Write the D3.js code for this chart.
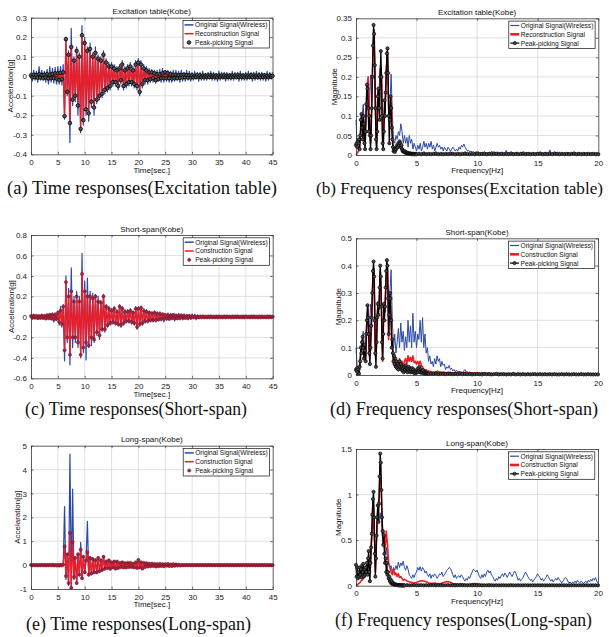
<!DOCTYPE html>
<html><head><meta charset="utf-8">
<script src="https://cdn.jsdelivr.net/npm/d3@7"></script>
<style>body{margin:0;background:#fff}svg{display:block}</style>
</head><body><svg id="c" width="609" height="637"></svg>
<script>
// ---------------- DATA ----------------
const timeXTicks = [0,5,10,15,20,25,30,35,40,45];
const freqXTicks = [0,5,10,15,20];
const aYTicks = [-0.4,-0.3,-0.2,-0.1,0,0.1,0.2,0.3];
const bYTicks = [0,0.05,0.1,0.15,0.2,0.25,0.3,0.35];
const cYTicks = [-0.6,-0.4,-0.2,0,0.2,0.4,0.6,0.8];
const dYTicks = [0,0.1,0.2,0.3,0.4,0.5];
const eYTicks = [-1,0,1,2,3,4,5];
const fYTicks = [0,0.5,1,1.5];

const panelTitles = ["Excitation table(Kobe)","Excitation table(Kobe)","Short-span(Kobe)","Short-span(Kobe)","Long-span(Kobe)","Long-span(Kobe)"];
const captions = ["(a) Time responses(Excitation table)","(b) Frequency responses(Excitation table)","(c) Time responses(Short-span)","(d) Frequency responses(Short-span)","(e) Time responses(Long-span)","(f) Frequency responses(Long-span)"];
const yLabels = ["Acceleration[g]","Magnitude","Acceleration[g]","Magnitude","Accelaration[g]","Magnitude"];
const xLabels = ["Time[sec.]","Frequency[Hz]"];
const legendTop = ["Original Signal(Wireless)","Reconstruction Signal","Peak-picking Signal"];
const legendLower = ["Original Signal(Wireless)","Construction Signal","Peak-picking Signal"];

// time signals, sampled every 0.25 s from 0 to 45 s
const timeStep = 0.25;
const aBlue = [0.02,-0.025,0.03,-0.02,0.025,-0.03,0.05,-0.02,0.03,-0.02,0.025,-0.03,0.035,-0.04,0.05,-0.03,0.04,-0.035,0.045,-0.04,0.05,-0.04,0.05,-0.045,
0.06,-0.22,0.2,-0.1,0.13,-0.34,0.245,-0.15,0.1,-0.13,0.15,-0.2,0.12,-0.29,0.26,-0.25,0.2,-0.2,0.15,-0.23,0.17,-0.16,0.12,-0.2,0.15,-0.14,0.11,-0.12,0.1,-0.11,0.13,-0.09,0.09,-0.08,0.07,-0.07,0.07,-0.05,0.06,-0.05,0.05,-0.07,0.06,-0.04,0.08,-0.07,0.05,-0.06,0.06,-0.05,0.07,-0.05,0.05,-0.06,0.08,-0.07,0.09,-0.1,0.08,-0.06,0.06,-0.04,0.05,-0.04,
0.04,-0.03,0.035,-0.03,0.03,-0.035,0.03,-0.025,0.035,-0.03,0.04,-0.03,0.03,-0.025,0.03,-0.03,0.025,-0.03,0.03,-0.025,0.03,-0.02,0.025,-0.03,0.03,-0.025,0.02,-0.025,0.03,-0.02,0.025,-0.025,
0.02,-0.02,0.025,-0.015,0.02,-0.025,0.02,-0.02,0.025,-0.02,0.015,-0.02,0.02,-0.015,0.025,-0.02,0.02,-0.02,0.015,-0.025,0.025,-0.02,0.02,-0.015,0.02,-0.025,0.02,-0.02,0.015,-0.02,0.025,-0.02,0.02,-0.015,0.02,-0.025,0.025,-0.02,0.015,-0.02,0.02,-0.02,0.025,-0.015,0.02,-0.025,0.02,-0.02,0.025,-0.015,0.02,-0.02,0.02,-0.02,0.015,-0.025,0.025,-0.02,0.02,-0.015,0.02];
const aPeak = [0.004,-0.006,0.008,-0.005,0.006,-0.008,0.01,-0.006,0.007,-0.01,0.008,-0.006,0.01,-0.012,0.008,-0.01,0.012,-0.01,0.015,-0.012,0.015,-0.02,0.018,-0.015,
0.02,-0.205,0.19,-0.08,0.11,-0.24,0.15,-0.12,0.08,-0.1,0.13,-0.15,0.1,-0.27,0.21,-0.225,0.17,-0.17,0.13,-0.19,0.14,-0.13,0.1,-0.16,0.12,-0.12,0.09,-0.1,0.08,-0.09,0.11,-0.07,0.07,-0.06,0.05,-0.05,0.05,-0.03,0.04,-0.03,0.03,-0.05,0.04,-0.02,0.06,-0.05,0.03,-0.04,0.04,-0.03,0.05,-0.03,0.03,-0.04,0.06,-0.05,0.07,-0.08,0.06,-0.04,0.04,-0.02,0.03,-0.02,
0.02,-0.015,0.02,-0.01,0.015,-0.02,0.01,-0.015,0.01,-0.01,0.015,-0.01,0.02,-0.01,0.015,-0.01,0.01,-0.012,0.008,-0.01,0.008,-0.01,0.006,-0.008,0.007,-0.006,0.008,-0.005,0.006,-0.007,0.005,-0.006,
0.004,-0.005,0.003,-0.004,0.005,-0.003,0.004,-0.004,0.003,-0.005,0.004,-0.003,0.004,-0.004,0.005,-0.003,0.003,-0.004,0.004,-0.005,0.004,-0.003,0.003,-0.004,0.005,-0.004,0.003,-0.003,0.004,-0.005,0.004,-0.003,0.003,-0.004,0.005,-0.004,0.004,-0.003,0.003,-0.005,0.004,-0.004,0.003,-0.003,0.005,-0.004,0.004,-0.003,0.003,-0.005,0.004,-0.004,0.004,-0.003,0.005,-0.004,0.003,-0.004,0.004,-0.003,0.002];

const cBlue = [0.015,-0.02,0.025,-0.015,0.02,-0.025,0.015,-0.02,0.025,-0.02,0.02,-0.03,0.03,-0.025,0.035,-0.03,0.04,-0.05,0.04,-0.035,
0.06,-0.08,0.1,-0.1,0.12,-0.43,0.4,-0.25,0.28,-0.47,0.48,-0.3,0.2,-0.25,0.25,-0.3,0.2,-0.4,0.62,-0.35,0.35,-0.42,0.38,-0.3,0.25,-0.28,0.23,-0.25,0.22,-0.18,0.2,-0.22,0.16,-0.14,0.22,-0.15,0.12,-0.1,0.1,-0.08,0.08,-0.07,0.1,-0.08,0.07,-0.09,0.12,-0.1,0.1,-0.08,0.07,-0.06,0.07,-0.06,0.08,-0.07,0.06,-0.08,0.1,-0.12,0.1,-0.09,0.1,-0.08,0.08,-0.06,0.07,-0.06,
0.06,-0.05,0.05,-0.05,0.06,-0.05,0.05,-0.04,0.05,-0.04,0.04,-0.05,
0.03,-0.035,0.04,-0.03,0.035,-0.03,0.03,-0.04,0.03,-0.025,0.035,-0.03,0.025,-0.03,0.03,-0.02,0.025,-0.03,0.02,-0.025,0.03,-0.02,0.025,-0.03,0.02,-0.015,0.01,-0.005,
0.002,-0.003,0.003,-0.002,0.003,-0.002,0.002,-0.003,0.002,-0.002,0.003,-0.002,0.003,-0.003,0.002,-0.002,0.002,-0.003,0.003,-0.002,0.003,-0.002,0.002,-0.003,0.002,-0.002,0.003,-0.002,0.003,-0.003,0.002,-0.002,0.002,-0.003,0.003,-0.002,0.003,-0.002,0.002,-0.003,0.002,-0.002,0.003,-0.002,0.003,-0.003,0.002,-0.002,0.002,-0.003,0.003,-0.002,0.002];
const cPeak = [0.008,-0.01,0.012,-0.008,0.01,-0.012,0.008,-0.01,0.012,-0.01,0.01,-0.015,0.015,-0.012,0.02,-0.015,0.02,-0.025,0.02,-0.02,
0.04,-0.05,0.06,-0.07,0.1,-0.326,0.34,-0.2,0.2,-0.37,0.25,-0.2,0.15,-0.2,0.2,-0.25,0.15,-0.37,0.42,-0.3,0.25,-0.25,0.2,-0.28,0.2,-0.2,0.18,-0.22,0.2,-0.15,0.15,-0.18,0.14,-0.12,0.2,-0.12,0.1,-0.08,0.08,-0.06,0.06,-0.05,0.08,-0.06,0.05,-0.07,0.1,-0.08,0.08,-0.06,0.05,-0.04,0.05,-0.04,0.06,-0.05,0.04,-0.06,0.08,-0.1,0.08,-0.07,0.09,-0.06,0.06,-0.04,0.05,-0.04,
0.04,-0.03,0.035,-0.03,0.04,-0.03,0.03,-0.025,0.03,-0.02,0.025,-0.02,
0.02,-0.015,0.015,-0.02,0.015,-0.01,0.02,-0.015,0.01,-0.015,0.012,-0.01,0.015,-0.01,0.01,-0.012,0.008,-0.01,0.01,-0.008,
0.005,-0.004,0.006,-0.005,0.004,-0.006,0.005,-0.004,0.006,-0.005,0.004,-0.005,0.005,-0.004,0.006,-0.005,0.004,-0.005,0.005,-0.006,0.005,-0.004,0.004,-0.005,0.006,-0.005,0.005,-0.004,0.004,-0.006,0.005,-0.005,0.005,-0.004,0.006,-0.004,0.004,-0.005,0.005,-0.006,0.006,-0.004,0.004,-0.005,0.005,-0.005,0.006,-0.004,0.004,-0.006,0.005,-0.005,0.005,-0.004,0.004,-0.005,0.006,-0.005,0.005,-0.004,0.003];

const eBlue = [0.02,-0.02,0.025,-0.015,0.02,-0.025,0.02,-0.02,0.025,-0.02,0.015,-0.025,0.02,-0.02,0.025,-0.015,0.03,-0.02,0.02,-0.03,0.025,-0.03,0.03,-0.025,
0.05,2.45,-0.6,0.5,-0.85,4.65,-0.95,3.18,-0.6,0.35,-0.8,0.5,-0.45,0.95,-0.6,0.4,-0.35,0.25,1.83,-0.45,0.35,-0.4,0.3,-0.35,0.25,-0.35,0.35,-0.3,0.25,-0.25,0.4,-0.2,0.2,-0.15,0.25,-0.2,0.15,-0.12,0.2,-0.18,0.18,-0.15,0.12,-0.1,0.15,-0.12,0.1,-0.12,0.12,-0.1,0.12,-0.1,0.08,-0.12,0.15,-0.14,0.25,-0.12,0.15,-0.18,0.12,-0.1,0.1,-0.08,
0.07,-0.06,0.07,-0.05,0.06,-0.07,0.05,-0.06,0.06,-0.05,0.05,-0.06,0.05,-0.04,0.06,-0.05,0.04,-0.05,0.05,-0.04,0.04,-0.03,0.03,-0.03,
0.015,-0.015,0.02,-0.01,0.015,-0.02,0.015,-0.015,0.02,-0.015,0.01,-0.015,0.015,-0.01,0.02,-0.015,0.015,-0.015,0.01,-0.02,0.02,-0.015,0.015,-0.01,0.015,-0.02,0.015,-0.015,0.01,-0.015,0.02,-0.015,0.015,-0.01,0.015,-0.02,0.02,-0.015,0.01,-0.015,0.015,-0.015,0.02,-0.01,0.015,-0.02,0.015,-0.015,0.02,-0.01,0.015,-0.015,0.015,-0.015,0.01,-0.02,0.02,-0.015,0.015,-0.01,0.015,-0.015,0.02,-0.015,0.01,-0.015,0.015,-0.01,0.01];
const ePeak = [0.01,-0.01,0.015,-0.01,0.01,-0.015,0.01,-0.01,0.015,-0.01,0.01,-0.015,0.01,-0.01,0.015,-0.01,0.02,-0.015,0.01,-0.02,0.015,-0.02,0.02,-0.015,
0.02,0.79,-0.46,0.45,-0.75,1.35,-0.95,0.97,-0.5,0.3,-0.75,0.45,-0.4,0.65,-0.55,0.35,-0.3,0.2,0.55,-0.4,0.3,-0.35,0.25,-0.3,0.2,-0.3,0.3,-0.25,0.2,-0.2,0.35,-0.15,0.15,-0.12,0.2,-0.15,0.12,-0.1,0.15,-0.15,0.15,-0.12,0.1,-0.08,0.12,-0.1,0.08,-0.1,0.1,-0.08,0.1,-0.08,0.06,-0.1,0.12,-0.12,0.22,-0.1,0.12,-0.15,0.1,-0.08,0.08,-0.06,
0.06,-0.05,0.06,-0.04,0.05,-0.06,0.04,-0.05,0.05,-0.04,0.04,-0.05,0.04,-0.03,0.05,-0.04,0.03,-0.04,0.04,-0.03,0.03,-0.02,0.02,-0.02,
0.01,-0.012,0.008,-0.01,0.012,-0.008,0.01,-0.01,0.008,-0.012,0.01,-0.008,0.01,-0.01,0.012,-0.008,0.008,-0.01,0.01,-0.012,0.01,-0.008,0.008,-0.01,0.012,-0.01,0.008,-0.008,0.01,-0.012,0.01,-0.008,0.008,-0.01,0.012,-0.01,0.01,-0.008,0.008,-0.012,0.01,-0.01,0.008,-0.008,0.012,-0.01,0.01,-0.008,0.008,-0.012,0.01,-0.01,0.01,-0.008,0.012,-0.01,0.008,-0.01,0.01,-0.008,0.008,-0.01,0.012,-0.008,0.01,-0.012,0.008,-0.01,0.005];

// frequency spectra
// original: every 0.1 Hz from 0 to 20 Hz
const bBlue = [0.09,0.02,0.04,0.03,0.08,0.1,0.13,0.06,0.1,0.16,0.19,0.12,0.205,0.14,0.25,0.31,0.15,0.05,0.17,0.14,0.23,0.22,0.08,0.1,0.15,0.2,0.25,0.12,0.13,0.207,0.1,0.04,0.03,0.05,0.04,0.06,0.05,0.08,0.06,0.03,0.05,0.03,0.045,0.02,0.05,0.03,0.04,0.015,0.03,0.02,
0.01,0.025,0.015,0.03,0.01,0.02,0.035,0.02,0.03,0.015,0.03,0.02,0.035,0.015,0.025,0.01,0.02,0.03,0.02,0.025,0.015,0.02,0.01,0.02,0.015,0.01,0.02,0.015,0.01,0.015,0.02,0.015,0.01,0.015,0.01,0.02,0.015,0.025,0.02,0.028,0.02,0.015,0.01,0.012,0.008,0.01,0.007,0.009,0.006,0.008,
0.006,0.008,0.005,0.007,0.004,0.006,0.009,0.005,0.006,0.004,0.007,0.005,0.01,0.006,0.004,0.006,0.005,0.008,0.004,0.006,0.005,0.007,0.004,0.006,0.012,0.005,0.006,0.004,0.007,0.005,0.006,0.004,0.005,0.008,0.005,0.004,0.006,0.005,0.007,0.004,0.005,0.006,0.004,0.007,0.005,0.004,0.006,0.005,0.004,0.006,0.005,0.007,0.004,0.005,0.006,0.004,0.005,0.007,0.005,0.004,0.013,0.005,0.004,0.006,0.005,0.004,0.006,0.005,0.007,0.004,0.005,0.004,0.006,0.005,0.004,0.007,0.005,0.004,0.006,0.004,0.005,0.006,0.004,0.005,0.007,0.004,0.005,0.004,0.006,0.005,0.004,0.006,0.005,0.004,0.005,0.006,0.004,0.005,0.004,0.006,0.005];
// peak-picking: every 0.05 Hz over the low band, then every 0.2 Hz
const bPeakLow = [0.025,0.03,0.02,0.035,0.03,0.04,0.015,0.05,0.09,0.105,0.07,0.04,0.1,0.08,0.03,0.015,0.06,0.13,0.18,0.17,0.12,0.06,0.1,0.05,0.015,0.05,0.12,0.2,0.28,0.333,0.31,0.23,0.12,0.04,0.015,0.06,0.15,0.17,0.12,0.09,0.2,0.266,0.2,0.1,0.03,0.015,0.06,0.14,0.1,0.16,0.21,0.26,0.273,0.21,0.1,0.03,0.09,0.15,0.12,0.07,0.04,0.02,0.01,0.015,0.008,0.012,0.015,0.02,0.025,0.02,0.03,0.025,0.035,0.03,0.02,0.025,0.015,0.01,0.012,0.008,0.01,0.006,0.008,0.005,0.006,0.004,0.005,0.003,0.004,0.003,0.004,0.003,0.002,0.003,0.002,0.003,0.002,0.002,0.003,0.002,0.002];
const bPeakTailStart = 5.2;
const bPeakTail = [0.003,0.002,0.004,0.002,0.003,0.002,0.003,0.004,0.002,0.003,0.002,0.003,0.002,0.004,0.003,0.002,0.003,0.002,0.003,0.004,0.003,0.002,0.003,0.002,0.004,0.002,0.003,0.003,0.002,0.003,0.002,0.004,0.003,0.002,0.003,0.002,0.003,0.002,0.004,0.002,0.003,0.002,0.003,0.004,0.002,0.003,0.002,0.003,0.002,0.003,0.004,0.002,0.003,0.002,0.003,0.002,0.004,0.003,0.002,0.003,0.002,0.003,0.002,0.003,0.004,0.002,0.003,0.002,0.003,0.002,0.003,0.002,0.003,0.002,0.002];
// reconstruction: every 0.1 Hz over the low band, then every 0.25 Hz
const bRedLow = [0,0.005,0.01,0.02,0.06,0.08,0.09,0.03,0.08,0.17,0.2,0.1,0.03,0.13,0.27,0.32,0.12,0.02,0.16,0.13,0.22,0.21,0.03,0.07,0.12,0.22,0.26,0.11,0.1,0.15,0.05,0.02,0.01,0.015,0.02,0.025,0.03,0.025,0.015,0.012,0.01,0.008,0.006,0.007,0.005,0.006,0.004,0.005,0.004,0.004,0.003];
const bRedTailStart = 5.25;
const bRedTail = [0.003,0.004,0.003,0.002,0.003,0.004,0.003,0.002,0.003,0.002,0.003,0.002,0.003,0.004,0.002,0.003,0.002,0.003,0.002,0.003,0.002,0.003,0.002,0.002,0.003,0.002,0.003,0.002,0.002,0.003,0.002,0.002,0.003,0.002,0.002,0.003,0.002,0.002,0.002,0.003,0.002,0.002,0.003,0.002,0.002,0.002,0.003,0.002,0.002,0.002,0.003,0.002,0.002,0.002,0.003,0.002,0.002,0.002,0.002,0.002];

const dBlue = [0.1,0.03,0.02,0.04,0.1,0.13,0.16,0.1,0.12,0.22,0.26,0.12,0.26,0.22,0.37,0.39,0.12,0.15,0.27,0.26,0.37,0.27,0.1,0.26,0.25,0.37,0.4,0.18,0.3,0.385,0.2,0.1,0.15,0.08,0.12,0.17,0.1,0.19,0.12,0.16,0.09,0.14,0.1,0.2,0.12,0.18,0.1,0.226,0.12,0.16,
0.1,0.15,0.13,0.2,0.12,0.21,0.1,0.15,0.08,0.1,0.05,0.07,0.04,0.05,0.03,0.06,0.04,0.07,0.05,0.06,0.03,0.05,0.035,0.04,0.02,0.03,0.025,0.035,0.02,0.025,0.015,0.02,0.012,0.018,0.01,0.015,0.01,0.012,0.008,0.015,0.02,0.01,0.012,0.008,0.01,0.006,0.008,0.005,0.007,0.005,
0.006,0.004,0.008,0.005,0.01,0.006,0.004,0.007,0.005,0.003,0.005,0.004,0.006,0.003,0.005,0.004,0.003,0.005,0.004,0.003,0.004,0.003,0.005,0.003,0.004,0.002,0.004,0.003,0.005,0.003,0.004,0.003,0.002,0.004,0.003,0.002,0.003,0.004,0.002,0.003,0.002,0.003,0.004,0.002,0.003,0.002,0.003,0.002,0.004,0.002,0.003,0.002,0.003,0.002,0.003,0.004,0.002,0.003,0.002,0.003,0.002,0.003,0.002,0.004,0.002,0.003,0.002,0.003,0.002,0.003,0.002,0.003,0.002,0.003,0.002,0.002,0.003,0.002,0.003,0.002,0.002,0.003,0.002,0.002,0.003,0.002,0.003,0.002,0.002,0.003,0.002,0.002,0.003,0.002,0.002,0.003,0.002,0.002,0.003,0.002,0.002];
const dPeakLow = [0.02,0.015,0.025,0.01,0.02,0.005,0.03,0.05,0.1,0.08,0.12,0.14,0.1,0.06,0.11,0.09,0.05,0.15,0.2,0.255,0.21,0.15,0.08,0.04,0.1,0.18,0.21,0.3,0.38,0.415,0.36,0.2,0.08,0.03,0.12,0.21,0.26,0.22,0.25,0.32,0.4,0.36,0.25,0.12,0.06,0.15,0.26,0.2,0.25,0.32,0.38,0.42,0.4,0.28,0.15,0.22,0.3,0.28,0.2,0.1,0.13,0.08,0.05,0.07,0.04,0.06,0.03,0.05,0.025,0.04,0.02,0.035,0.05,0.03,0.04,0.02,0.03,0.015,0.025,0.01,0.03,0.02,0.035,0.015,0.025,0.01,0.02,0.03,0.015,0.025,0.01,0.02,0.012,0.025,0.01,0.02,0.008,0.015,0.006,0.012,0.01,0.02,0.01,0.025,0.015,0.03,0.01,0.02,0.008,0.015,0.01,0.018,0.006,0.012,0.005,0.01,0.004,0.008,0.004,0.005,0.004];
const dPeakTailStart = 6.2;
const dPeakTail = [0.005,0.004,0.006,0.003,0.005,0.004,0.003,0.005,0.004,0.003,0.004,0.003,0.005,0.003,0.004,0.003,0.004,0.002,0.003,0.004,0.003,0.002,0.004,0.003,0.003,0.002,0.003,0.004,0.002,0.003,0.003,0.002,0.003,0.002,0.004,0.002,0.003,0.002,0.003,0.002,0.003,0.002,0.003,0.003,0.002,0.003,0.002,0.003,0.002,0.003,0.002,0.003,0.002,0.002,0.003,0.002,0.003,0.002,0.002,0.003,0.002,0.002,0.003,0.002,0.002,0.003,0.002,0.002,0.002,0.002];
const dRedLow = [0,0.005,0.01,0.02,0.08,0.11,0.1,0.09,0.06,0.2,0.24,0.07,0.09,0.2,0.37,0.38,0.07,0.11,0.25,0.24,0.38,0.24,0.05,0.24,0.23,0.36,0.39,0.13,0.28,0.2,0.12,0.04,0.03,0.05,0.03,0.04,0.06,0.04,0.05,0.03,0.05,0.06,0.04,0.07,0.05,0.065,0.05,0.07,0.045,0.05,0.04,0.05,0.04,0.05,0.035,0.03,0.02,0.015,0.02,0.01,0.015];
const dRedTailStart = 6.25;
const dRedTail = [0.012,0.01,0.014,0.009,0.011,0.008,0.01,0.007,0.009,0.008,0.007,0.009,0.006,0.008,0.006,0.007,0.005,0.006,0.005,0.007,0.005,0.004,0.006,0.004,0.005,0.004,0.005,0.003,0.004,0.005,0.004,0.003,0.004,0.003,0.004,0.003,0.003,0.004,0.003,0.003,0.003,0.002,0.003,0.003,0.002,0.003,0.002,0.003,0.002,0.002,0.003,0.002,0.002,0.003,0.002,0.002];

const fBlue = [0.2,0.1,0.15,0.12,0.18,0.1,0.2,0.12,0.22,0.15,0.3,0.25,0.35,0.5,0.75,0.55,0.3,0.5,0.78,0.7,0.8,0.72,0.5,0.45,0.35,0.42,0.3,0.25,0.2,0.22,0.15,0.2,0.17,0.22,0.18,0.26,0.2,0.25,0.22,0.27,0.2,0.17,0.22,0.18,0.12,0.1,0.08,0.12,0.09,0.13,
0.15,0.2,0.17,0.21,0.16,0.2,0.18,0.14,0.16,0.12,0.1,0.13,0.08,0.12,0.1,0.13,0.11,0.08,0.1,0.13,0.12,0.15,0.1,0.12,0.14,0.17,0.18,0.2,0.19,0.16,0.12,0.09,0.12,0.08,0.1,0.11,0.09,0.12,0.1,0.07,0.05,0.08,0.06,0.1,0.08,0.12,0.15,0.18,0.17,0.15,
0.17,0.14,0.1,0.08,0.12,0.09,0.13,0.1,0.15,0.17,0.14,0.16,0.12,0.1,0.07,0.05,0.08,0.06,0.1,0.08,0.11,0.13,0.1,0.14,0.12,0.09,0.12,0.15,0.12,0.1,0.13,0.16,0.14,0.1,0.06,0.08,0.05,0.07,0.09,0.12,0.15,0.13,0.1,0.08,0.06,0.07,0.04,0.06,0.08,0.1,
0.13,0.11,0.09,0.06,0.08,0.05,0.07,0.09,0.12,0.1,0.07,0.05,0.07,0.04,0.06,0.08,0.06,0.09,0.07,0.05,0.03,0.05,0.07,0.09,0.08,0.05,0.03,0.04,0.02,0.04,0.03,0.05,0.03,0.06,0.04,0.03,0.05,0.04,0.02,0.04,0.05,0.03,0.06,0.04,0.07,0.05,0.08,0.06,0.09,0.05,0.03];
const fPeakLow = [0.23,0.1,0.2,0.08,0.15,0.1,0.2,0.12,0.18,0.09,0.22,0.15,0.24,0.1,0.18,0.12,0.2,0.15,0.25,0.12,0.3,0.38,0.15,0.05,0.25,0.42,0.57,0.78,0.95,1.03,0.75,0.35,0.1,0.3,0.55,0.75,0.88,0.7,0.9,1.2,1.45,1.35,1.05,0.75,0.6,0.45,0.55,0.35,0.25,0.3,0.15,0.25,0.12,0.15,0.08,0.1,0.05,0.07,0.03,0.05,0.02,0.03,0.015,0.02,0.01,0.015,0.008,0.01,0.006,0.008,0.005,0.006,0.004,0.005,0.004,0.004,0.003,0.004,0.003,0.003,0.003];
const fPeakTailStart = 4.2;
const fPeakTail = [0.006,0.004,0.005,0.007,0.004,0.005,0.006,0.004,0.005,0.004,0.006,0.005,0.004,0.006,0.005,0.004,0.005,0.006,0.004,0.005,0.004,0.005,0.006,0.004,0.005,0.004,0.005,0.004,0.006,0.004,0.005,0.004,0.005,0.004,0.004,0.005,0.004,0.005,0.004,0.004,0.005,0.004,0.004,0.005,0.004,0.004,0.005,0.004,0.004,0.005,0.004,0.004,0.005,0.004,0.004,0.004,0.005,0.004,0.004,0.004,0.005,0.004,0.004,0.004,0.005,0.004,0.004,0.004,0.004,0.005,0.004,0.004,0.004,0.004,0.005,0.004,0.004,0.004,0.004,0.004];
const fRedLow = [0,0.01,0.02,0.03,0.05,0.06,0.08,0.1,0.12,0.2,0.3,0.25,0.2,0.55,0.95,0.7,0.15,0.5,0.85,0.95,1.35,1.0,0.55,0.6,0.4,0.6,0.45,0.25,0.2,0.15,0.12,0.18,0.12,0.14,0.1,0.13,0.09,0.1,0.08,0.06,0.07];
const fRedTailStart = 4.25;
const fRedTail = [0.05,0.04,0.03,0.035,0.05,0.055,0.045,0.03,0.025,0.03,0.02,0.025,0.035,0.045,0.04,0.025,0.02,0.015,0.02,0.015,0.012,0.018,0.025,0.02,0.015,0.012,0.01,0.015,0.012,0.01,0.008,0.012,0.01,0.008,0.012,0.01,0.008,0.01,0.007,0.009,0.008,0.006,0.009,0.007,0.006,0.008,0.006,0.007,0.006,0.005,0.007,0.005,0.006,0.005,0.006,0.004,0.005,0.004,0.006,0.004,0.005,0.004,0.005,0.004];

// ---------------- DRAWING ----------------
const SANS = '"Liberation Sans", Arial, Helvetica, sans-serif';
const SERIF = '"Liberation Serif", "Times New Roman", serif';
const BLUE = '#2b4aa8', RED = '#ee1c25', DARKRED = '#a3223d';
const svg = d3.select('#c');

const seq = (vals, start, step) => vals.map((v, i) => [start + i * step, v]);

function panel(p) {
  const [L, R, T, B] = p.box;
  const x = d3.scaleLinear().domain(p.xDomain).range([L, R]);
  const y = d3.scaleLinear().domain(p.yDomain).range([B, T]);
  const g = svg.append('g');
  // grid
  g.append('g').selectAll('line').data(p.xTicks.slice(1, -1)).join('line')
    .attr('x1', d => x(d)).attr('x2', d => x(d)).attr('y1', T).attr('y2', B)
    .attr('stroke', '#d2d2d2').attr('stroke-width', 0.7);
  g.append('g').selectAll('line').data(p.yTicks.slice(1, -1)).join('line')
    .attr('y1', d => y(d)).attr('y2', d => y(d)).attr('x1', L).attr('x2', R)
    .attr('stroke', '#d2d2d2').attr('stroke-width', 0.7);

  const line = d3.line().x(d => x(d[0])).y(d => y(d[1]));
  p.series.forEach(s => {
    g.append('path').datum(s.data).attr('d', line).attr('fill', 'none')
      .attr('stroke', s.color).attr('stroke-width', s.width).attr('stroke-linejoin', 'round');
  });
  if (p.markers) {
    g.append('g').selectAll('circle').data(p.markers.data).join('circle')
      .attr('cx', d => x(d[0])).attr('cy', d => y(d[1])).attr('r', p.markers.r)
      .attr('fill', p.markers.fill).attr('stroke', p.markers.stroke).attr('stroke-width', p.markers.sw);
  }

  // axes (inward ticks on all sides)
  const fmt = d => String(d);
  const styleAxis = (a) => {
    a.attr('font-size', 8).attr('font-family', SANS).attr('color', '#333');
    a.selectAll('text').attr('fill', '#222');
    a.select('.domain').attr('stroke-width', 0.8);
    a.selectAll('.tick line').attr('stroke-width', 0.7);
  };
  g.append('g').attr('transform', `translate(0,${B})`)
    .call(d3.axisBottom(x).tickValues(p.xTicks).tickSize(-2.5).tickSizeOuter(0).tickPadding(5).tickFormat(fmt)).call(styleAxis);
  g.append('g').attr('transform', `translate(0,${T})`)
    .call(d3.axisTop(x).tickValues(p.xTicks).tickSize(-2.5).tickSizeOuter(0).tickFormat('')).call(styleAxis);
  g.append('g').attr('transform', `translate(${L},0)`)
    .call(d3.axisLeft(y).tickValues(p.yTicks).tickSize(-2.5).tickSizeOuter(0).tickPadding(4).tickFormat(fmt)).call(styleAxis);
  g.append('g').attr('transform', `translate(${R},0)`)
    .call(d3.axisRight(y).tickValues(p.yTicks).tickSize(-2.5).tickSizeOuter(0).tickFormat('')).call(styleAxis);

  // title, labels
  g.append('text').attr('x', (L + R) / 2).attr('y', T - 3.5).attr('text-anchor', 'middle')
    .attr('font-family', SANS).attr('font-size', 8).attr('fill', '#111').text(p.title);
  g.append('text').attr('x', (L + R) / 2).attr('y', B + 18.3).attr('text-anchor', 'middle')
    .attr('font-family', SANS).attr('font-size', 8).attr('fill', '#111').text(p.xLabel);
  g.append('text').attr('transform', `translate(${p.ylabX},${(T + B) / 2}) rotate(-90)`).attr('text-anchor', 'middle')
    .attr('font-family', SANS).attr('font-size', 8).attr('fill', '#111').text(p.yLabel);

  // legend
  const lx = R - 89.5, ly = T + 2.8, lw = 86.3, lh = 27.5;
  const lg = g.append('g');
  lg.append('rect').attr('x', lx).attr('y', ly).attr('width', lw).attr('height', lh)
    .attr('fill', '#fff').attr('stroke', '#111').attr('stroke-width', 0.7);
  p.legend.forEach((e, i) => {
    const cy = ly + 4.4 + i * 8.8;
    if (e.line) lg.append('line').attr('x1', lx + 1.5).attr('x2', lx + 10.5).attr('y1', cy).attr('y2', cy)
      .attr('stroke', e.line).attr('stroke-width', e.lw);
    if (e.marker) lg.append('circle').attr('cx', lx + 6).attr('cy', cy).attr('r', e.marker.r)
      .attr('fill', e.marker.fill).attr('stroke', e.marker.stroke).attr('stroke-width', e.marker.sw);
    lg.append('text').attr('x', lx + 12).attr('y', cy + 2.4).attr('font-family', SANS)
      .attr('font-size', 6.6).attr('fill', '#111').text(e.label);
  });

  // caption
  svg.append('text').attr('x', p.cap.x).attr('y', p.cap.y).attr('font-family', SERIF)
    .attr('font-size', p.cap.fs || 18).attr('fill', '#111').attr('textLength', p.cap.w)
    .attr('lengthAdjust', 'spacingAndGlyphs').text(p.caption);
}

const timeLegend = (labels, mk) => [
  { label: labels[0], line: BLUE, lw: 1.5 },
  { label: labels[1], line: RED, lw: 1.5 },
  { label: labels[2], marker: mk }
];
const freqLegend = (labels, mk) => [
  { label: labels[0], line: BLUE, lw: 1.2 },
  { label: labels[1], line: RED, lw: 2.6 },
  { label: labels[2], line: '#000', lw: 1.2, marker: mk }
];

const mkA = { r: 1.8, fill: '#555', stroke: '#000', sw: 0.8 };
const mkC = { r: 1.6, fill: DARKRED, stroke: '#7d1528', sw: 0.5 };
const mkF = { r: 1.6, fill: '#4a4a4a', stroke: '#000', sw: 0.7 };

function timePanel(box, blue, peak, yDomain, yTicks, k, labels, mk, ylabX, cap) {
  const peakPts = seq(peak, 0, timeStep);
  panel({
    box, xDomain: [0, 45], yDomain, xTicks: timeXTicks, yTicks,
    series: [
      { data: seq(blue, 0, timeStep), color: BLUE, width: 1.2 },
      { data: peakPts, color: RED, width: 1.3 }
    ],
    markers: Object.assign({ data: peakPts }, mk),
    title: panelTitles[k], xLabel: xLabels[0], yLabel: yLabels[k], ylabX,
    legend: timeLegend(labels, mk), caption: captions[k], cap
  });
}
function freqPanel(box, blue, peakLow, peakTailStart, peakTail, redLow, redTailStart, redTail, yDomain, yTicks, k, labels, ylabX, cap) {
  const peakPts = seq(peakLow, 0, 0.05).concat(seq(peakTail, peakTailStart, 0.2));
  const redPts = seq(redLow, 0, 0.1).concat(seq(redTail, redTailStart, 0.25));
  panel({
    box, xDomain: [0, 20], yDomain, xTicks: freqXTicks, yTicks,
    series: [
      { data: seq(blue, 0, 0.1), color: BLUE, width: 1.0 },
      { data: redPts, color: RED, width: 1.6 },
      { data: peakPts, color: '#000', width: 1.3 }
    ],
    markers: Object.assign({ data: peakPts }, mkF),
    title: panelTitles[k], xLabel: xLabels[1], yLabel: yLabels[k], ylabX,
    legend: freqLegend(labels, mkF), caption: captions[k], cap
  });
}

timePanel([31, 272.5, 17.7, 154.3], aBlue, aPeak, [-0.4, 0.3], aYTicks, 0, legendTop, mkA, 13.3, { x: 7, y: 194, w: 270 });
freqPanel([356, 598.3, 18.3, 155], bBlue, bPeakLow, bPeakTailStart, bPeakTail, bRedLow, bRedTailStart, bRedTail, [0, 0.35], bYTicks, 1, legendTop, 336.5, { x: 316, y: 194, w: 287, fs: 16.8 });
timePanel([31, 272.7, 235, 378.3], cBlue, cPeak, [-0.6, 0.8], cYTicks, 2, legendLower, mkC, 14, { x: 25, y: 415, w: 222 });
freqPanel([356, 598, 238.3, 375], dBlue, dPeakLow, dPeakTailStart, dPeakTail, dRedLow, dRedTailStart, dRedTail, [0, 0.5], dYTicks, 3, legendLower, 340.5, { x: 330, y: 414.5, w: 268 });
timePanel([31, 272.7, 445.7, 589], eBlue, ePeak, [-1, 5], eYTicks, 4, legendLower, mkC, 19.5, { x: 26, y: 629.5, w: 225 });
freqPanel([356, 598, 449, 585.7], fBlue, fPeakLow, fPeakTailStart, fPeakTail, fRedLow, fRedTailStart, fRedTail, [0, 1.5], fYTicks, 5, legendLower, 341, { x: 335, y: 626, w: 257 });
</script>
</body></html>
